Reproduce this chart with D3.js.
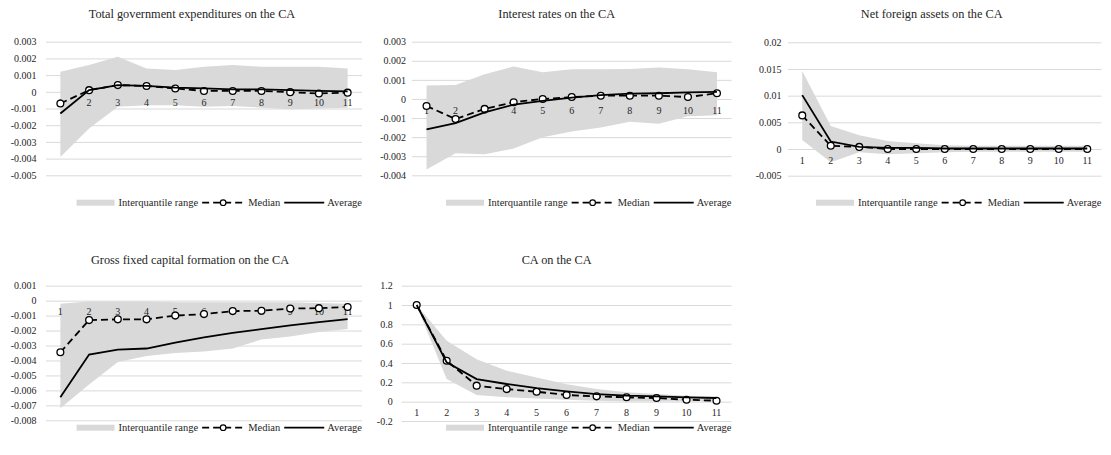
<!DOCTYPE html>
<html>
<head>
<meta charset="utf-8">
<script src="https://cdn.jsdelivr.net/npm/d3@7"></script>
<style>
  body { margin: 0; background: #fff; }
  svg { display: block; }
  svg text { font-family: "Times New Roman", "Liberation Serif", "DejaVu Serif", serif !important; }
</style>
</head>
<body>
<svg id="chart" width="1111" height="455"></svg>
<script>
// Horizon (periods after the shock)
const periods = [1, 2, 3, 4, 5, 6, 7, 8, 9, 10, 11];

// Total government expenditures on the CA
const govMedian  = [-0.0007, 0.0001, 0.0004, 0.00035, 0.0002, 0.00005, 0.00005, 0.00005, -0.00002, -0.0001, -0.00005];
const govAverage = [-0.0013, 0.0001, 0.0004, 0.00035, 0.00025, 0.0002, 0.00015, 0.00015, 0.0001, 0.00005, 0.00002];
const govUpper   = [0.0012, 0.0016, 0.0021, 0.0014, 0.0013, 0.0015, 0.0016, 0.0015, 0.0015, 0.0015, 0.0014];
const govLower   = [-0.0039, -0.0022, -0.0009, -0.0008, -0.0008, -0.0009, -0.00085, -0.00095, -0.00105, -0.001, -0.00095];
const govTicks   = [0.003, 0.002, 0.001, 0, -0.001, -0.002, -0.003, -0.004, -0.005];

// Interest rates on the CA
const rateMedian  = [-0.00037, -0.00105, -0.00052, -0.00017, 0, 0.0001, 0.00017, 0.00017, 0.00017, 0.0001, 0.0003];
const rateAverage = [-0.0016, -0.00127, -0.0007, -0.0003, -0.0001, 0.00007, 0.0002, 0.00028, 0.0003, 0.00035, 0.00037];
const rateUpper   = [0.0007, 0.00073, 0.0013, 0.0017, 0.0014, 0.00155, 0.00155, 0.00157, 0.00165, 0.00155, 0.0014];
const rateLower   = [-0.0037, -0.00285, -0.0029, -0.0026, -0.002, -0.0017, -0.0015, -0.0012, -0.0013, -0.0009, -0.00085];
const rateTicks   = [0.003, 0.002, 0.001, 0, -0.001, -0.002, -0.003, -0.004];

// Net foreign assets on the CA
const nfaMedian  = [0.0063, 0.0006, 0.0004, 0, 0, 0, 0, 0, 0, 0, 0];
const nfaAverage = [0.0101, 0.0014, 0.0004, 0.0002, 0.0002, 0.0001, 0.0001, 0.0001, 0.0001, 0.0001, 0.0001];
const nfaUpper   = [0.0146, 0.0043, 0.0026, 0.0015, 0.0011, 0.0007, 0.0006, 0.0006, 0.0006, 0.0006, 0.0006];
const nfaLower   = [0.0017, -0.0025, -0.0006, -0.001, -0.0008, -0.0006, -0.0005, -0.0005, -0.0005, -0.0005, -0.0005];
const nfaTicks   = [0.02, 0.015, 0.01, 0.005, 0, -0.005];

// Gross fixed capital formation on the CA
const gfcfMedian  = [-0.00345, -0.0013, -0.00125, -0.00125, -0.001, -0.0009, -0.0007, -0.00067, -0.00053, -0.0005, -0.00042];
const gfcfAverage = [-0.00646, -0.0036, -0.00327, -0.0032, -0.0028, -0.00245, -0.00216, -0.0019, -0.00165, -0.00143, -0.00123];
const gfcfUpper   = [-0.0002, -0.00005, -0.00005, -0.00005, -0.0001, -0.0001, -0.0001, -0.0001, -0.0001, -0.00015, -0.0002];
const gfcfLower   = [-0.0072, -0.0056, -0.0041, -0.0037, -0.0035, -0.0034, -0.0032, -0.0026, -0.0024, -0.0021, -0.0019];
const gfcfTicks   = [0.001, 0, -0.001, -0.002, -0.003, -0.004, -0.005, -0.006, -0.007, -0.008];

// CA on the CA
const caMedian  = [1.0, 0.424, 0.166, 0.13, 0.103, 0.069, 0.055, 0.045, 0.038, 0.02, 0.01];
const caAverage = [1.0, 0.407, 0.234, 0.183, 0.141, 0.107, 0.079, 0.062, 0.055, 0.045, 0.038];
const caUpper   = [1.0, 0.63, 0.44, 0.32, 0.25, 0.18, 0.13, 0.097, 0.08, 0.062, 0.052];
const caLower   = [0.99, 0.234, 0.069, 0.045, 0.034, 0.02, 0.01, 0.003, 0.003, 0.003, 0.003];
const caTicks   = [1.2, 1, 0.8, 0.6, 0.4, 0.2, 0, -0.2];

// Legend labels
const legendLabels = ["Interquantile range", "Median", "Average"];

// Panel geometry
const panels = [
  { title: "Total government expenditures on the CA", median: govMedian, average: govAverage, upper: govUpper, lower: govLower, ticks: govTicks,
    x0: 46, x1: 362, yTop: 41.7, yBot: 175.3, tickX: 36.5, titleX: 192, titleY: 14, legendY: 202.7 },
  { title: "Interest rates on the CA", median: rateMedian, average: rateAverage, upper: rateUpper, lower: rateLower, ticks: rateTicks,
    x0: 412, x1: 731.5, yTop: 41.7, yBot: 175.3, tickX: 406, titleX: 556.7, titleY: 14, legendY: 202.7 },
  { title: "Net foreign assets on the CA", median: nfaMedian, average: nfaAverage, upper: nfaUpper, lower: nfaLower, ticks: nfaTicks,
    x0: 788, x1: 1101.5, yTop: 42.3, yBot: 175.7, tickX: 781.5, titleX: 931.7, titleY: 14, legendY: 202.7 },
  { title: "Gross fixed capital formation on the CA", median: gfcfMedian, average: gfcfAverage, upper: gfcfUpper, lower: gfcfLower, ticks: gfcfTicks,
    x0: 46, x1: 362, yTop: 285.7, yBot: 420.3, tickX: 36.5, titleX: 190, titleY: 260, legendY: 427.7 },
  { title: "CA on the CA", median: caMedian, average: caAverage, upper: caUpper, lower: caLower, ticks: caTicks,
    x0: 401.7, x1: 731.5, yTop: 285.7, yBot: 421, tickX: 392.7, titleX: 556.7, titleY: 260, legendY: 427.7 }
];

const bandColor = "#d9d9d9";
const gridColor = "#d9d9d9";
const textColor = "#262626";
const serif = '"Times New Roman", "Liberation Serif", "DejaVu Serif", serif';
const tickFont = 10;
const legendFont = 10.5;
const titleFont = 12.3;

const svg = d3.select("#chart");
const fmt = d => String(parseFloat(d.toFixed(6)));

function drawPanel(p) {
  const g = svg.append("g").style("font-family", serif);
  const x = d3.scaleBand().domain(periods).range([p.x0, p.x1]);
  const cx = d => x(d) + x.bandwidth() / 2;
  const y = d3.scaleLinear()
    .domain([p.ticks[p.ticks.length - 1], p.ticks[0]])
    .range([p.yBot, p.yTop]);

  // title
  g.append("text")
    .attr("x", p.titleX).attr("y", p.titleY)
    .attr("text-anchor", "middle").attr("dominant-baseline", "central")
    .attr("font-size", titleFont).attr("fill", textColor)
    .style("font-family", serif)
    .text(p.title);

  // value axis with gridlines
  const yAxis = g.append("g")
    .attr("transform", `translate(${p.x0},0)`)
    .call(d3.axisLeft(y).tickValues(p.ticks).tickFormat(fmt)
      .tickSize(-(p.x1 - p.x0)).tickPadding(p.x0 - p.tickX));
  yAxis.attr("font-family", null);
  yAxis.select(".domain").remove();
  yAxis.selectAll("line").attr("stroke", gridColor).attr("stroke-width", 1);
  yAxis.selectAll("text").attr("font-size", tickFont).attr("fill", textColor)
    .style("font-family", serif);

  // interquartile band
  const area = d3.area()
    .x((d, i) => cx(periods[i]))
    .y0((d, i) => y(p.lower[i]))
    .y1((d, i) => y(p.upper[i]));
  g.append("path").datum(p.upper).attr("d", area).attr("fill", bandColor);

  // category axis crossing at zero
  const xAxis = g.append("g")
    .attr("transform", `translate(0,${y(0)})`)
    .call(d3.axisBottom(x).tickSize(0).tickPadding(7.5));
  xAxis.attr("font-family", null);
  xAxis.select(".domain").remove();
  xAxis.selectAll("text").attr("font-size", tickFont).attr("fill", textColor)
    .style("font-family", serif);

  const line = d3.line().x((d, i) => cx(periods[i])).y(d => y(d));

  // median: dashed with hollow markers
  g.append("path").datum(p.median).attr("d", line)
    .attr("fill", "none").attr("stroke", "#000").attr("stroke-width", 1.8)
    .attr("stroke-dasharray", "7,4");
  g.selectAll(".med").data(p.median).join("circle")
    .attr("cx", (d, i) => cx(periods[i])).attr("cy", d => y(d))
    .attr("r", 3.4).attr("fill", "#fff").attr("stroke", "#000").attr("stroke-width", 1.3);

  // average: solid
  g.append("path").datum(p.average).attr("d", line)
    .attr("fill", "none").attr("stroke", "#000").attr("stroke-width", 1.8);

  // legend, right-aligned with the plot
  const lg = g.append("g");
  let cur = 0;
  const ly = p.legendY;
  const label = (xp, s) => lg.append("text").attr("x", xp).attr("y", ly)
    .attr("dominant-baseline", "central").attr("font-size", legendFont)
    .attr("fill", textColor).style("font-family", serif).text(s);
  lg.append("rect").attr("x", cur).attr("y", ly - 3).attr("width", 38).attr("height", 6).attr("fill", bandColor);
  cur += 42;
  const t1 = label(cur, legendLabels[0]);
  cur += t1.node().getComputedTextLength() + 4;
  lg.append("line").attr("x1", cur).attr("x2", cur + 42).attr("y1", ly).attr("y2", ly)
    .attr("stroke", "#000").attr("stroke-width", 1.8).attr("stroke-dasharray", "7,4");
  lg.append("circle").attr("cx", cur + 21).attr("cy", ly).attr("r", 2.8)
    .attr("fill", "#fff").attr("stroke", "#000").attr("stroke-width", 1.2);
  cur += 46;
  const t2 = label(cur, legendLabels[1]);
  cur += t2.node().getComputedTextLength() + 4;
  lg.append("line").attr("x1", cur).attr("x2", cur + 40).attr("y1", ly).attr("y2", ly)
    .attr("stroke", "#000").attr("stroke-width", 1.8);
  cur += 43;
  const t3 = label(cur, legendLabels[2]);
  cur += t3.node().getComputedTextLength();
  lg.attr("transform", `translate(${p.x1 - cur},0)`);
}

panels.forEach(drawPanel);
</script>
</body>
</html>
